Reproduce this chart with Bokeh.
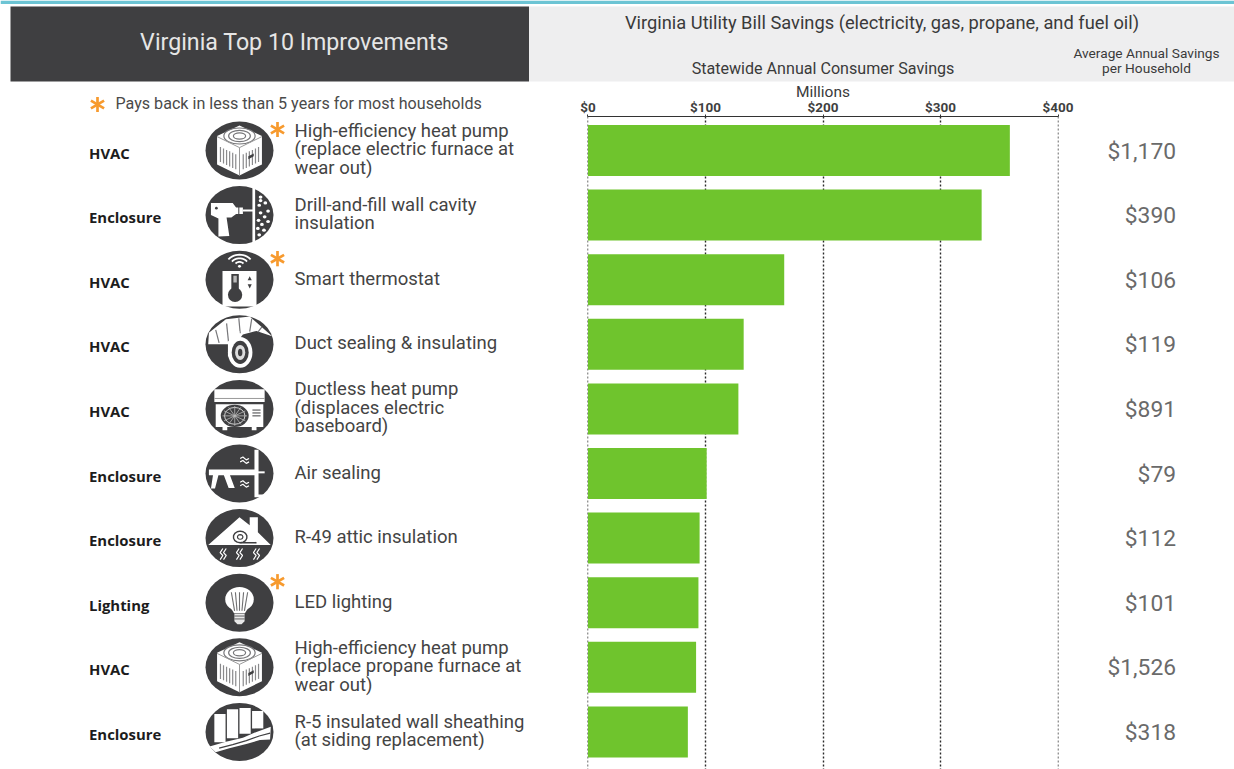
import math
from bokeh.plotting import figure
from bokeh.layouts import column, row
from bokeh.models import Range1d, LinearAxis, FixedTicker, NumeralTickFormatter, Grid
from bokeh.core.properties import value
from bokeh.embed import file_html
from bokeh.resources import INLINE

# ---- data
categories = ["HVAC", "Enclosure", "HVAC", "HVAC", "HVAC", "Enclosure", "Enclosure", "Lighting", "HVAC", "Enclosure"]
improvements = [
    "High-efficiency heat pump\n(replace electric furnace at\nwear out)",
    "Drill-and-fill wall cavity\ninsulation",
    "Smart thermostat",
    "Duct sealing & insulating",
    "Ductless heat pump\n(displaces electric\nbaseboard)",
    "Air sealing",
    "R-49 attic insulation",
    "LED lighting",
    "High-efficiency heat pump\n(replace propane furnace at\nwear out)",
    "R-5 insulated wall sheathing\n(at siding replacement)",
]
statewide_savings = [359, 335, 167, 132.5, 128, 101, 95, 94, 92, 85]
household_savings = ["$1,170", "$390", "$106", "$119", "$891", "$79", "$112", "$101", "$1,526", "$318"]
quick_payback = [True, False, True, False, False, False, False, True, False, False]
icons = ["ac", "drill", "thermostat", "duct", "ductless", "caulk", "attic", "bulb", "ac", "wall"]
x_ticks = [0, 100, 200, 300, 400]

# ---- style
FONT = "Roboto"
DARK = "#3f3f41"
WHITE = "#ffffff"
GREEN = "#6fc42d"
ORANGE = "#f79a2e"
GREY_BAND = "#eeeeef"
TEAL = "#6cc4d4"
TEXT = "#444444"

ROW0, ROW_STEP = 150.0, 64.6
HEAD_H = 82
BODY_TOP = 116
TOTAL_H = 769
CHART_OVERLAP = 4  # the chart's axis title reaches a little into the header's height


def blank(width, height, x_range, y_range, **kw):
    f = figure(width=width, height=height, x_range=x_range, y_range=y_range,
               output_backend="svg", toolbar_location=None, x_axis_type=None, y_axis_type=None,
               min_border=0, outline_line_color=None, background_fill_color=WHITE, **kw)
    return f


def put(f, x, y, s, size, color=TEXT, style="normal", align="left", baseline="middle", font=FONT, lh=None):
    kw = {}
    if lh:
        kw["text_line_height"] = lh
    f.text([x], [y], text=[s], text_font=value(font), text_font_size=f"{size}px", text_color=color,
           text_font_style=style, text_align=align, text_baseline=baseline, **kw)


def star(f, x, y, r=7.6, w=2.7):
    x0, y0, x1, y1 = [], [], [], []
    for a in (90, 30, 150):
        dx, dy = r * math.cos(math.radians(a)), r * math.sin(math.radians(a))
        x0.append(x - dx); y0.append(y - dy); x1.append(x + dx); y1.append(y + dy)
    f.segment(x0, y0, x1, y1, line_color=ORANGE, line_width=w)


# ---- header band
head = blank(1234, HEAD_H, Range1d(0, 1234), Range1d(HEAD_H, 0))
head.quad(left=[0], right=[1234], top=[0], bottom=[3.4], fill_color=TEAL, line_color=None)
head.quad(left=[10], right=[528.5], top=[6], bottom=[81], fill_color=DARK, line_color=None)
head.quad(left=[528.5], right=[1234], top=[6], bottom=[81], fill_color=GREY_BAND, line_color=None)
put(head, 294, 41.5, "Virginia Top 10 Improvements", 23.2, "#e6e6e6", align="center")
put(head, 881.5, 22, "Virginia Utility Bill Savings (electricity, gas, propane, and fuel oil)", 18.3, "#3a3a3a", align="center")
put(head, 822.5, 67.5, "Statewide Annual Consumer Savings", 16.1, "#3a3a3a", align="center")
put(head, 1146, 52, "Average Annual Savings", 13.7, "#3a3a3a", align="center")
put(head, 1146, 67.5, "per Household", 13.7, "#3a3a3a", align="center")

# ---- left panel: category, icon, description
LEFT_W = 577
strip = blank(LEFT_W, BODY_TOP - HEAD_H, Range1d(0, LEFT_W), Range1d(BODY_TOP, HEAD_H))
star(strip, 97, 104)
put(strip, 115, 103, "Pays back in less than 5 years for most households", 16.1, "#4a4a4a")

left = blank(LEFT_W, TOTAL_H - BODY_TOP, Range1d(0, LEFT_W), Range1d(TOTAL_H, BODY_TOP))


def U(c, pts):
    return [c[0] + 34 * u for u, v in pts], [c[1] + 29 * v for u, v in pts]


def poly(c, pts, color=WHITE):
    xs, ys = U(c, pts)
    left.patch(xs, ys, fill_color=color, line_color=None)


def ln(c, pts, color=DARK, w=1.0):
    xs, ys = U(c, pts)
    left.line(xs, ys, line_color=color, line_width=w)


def oval(c, u, v, w, h, fill=WHITE, line=None, lw=1.0):
    left.ellipse([c[0] + 34 * u], [c[1] + 29 * v], width=34 * w, height=29 * h, fill_color=fill,
                 line_color=line, line_width=lw)


def arc_pts(u, v, ru, rv, a0, a1, n=14):
    return [(u + ru * math.cos(math.radians(a0 + (a1 - a0) * i / n)),
             v + rv * math.sin(math.radians(a0 + (a1 - a0) * i / n))) for i in range(n + 1)]


def icon_ac(c):
    poly(c, [(0, -0.86), (0.66, -0.5), (0.66, 0.48), (0, 0.86), (-0.66, 0.48), (-0.66, -0.5)])
    for r in (0.46, 0.32, 0.18):
        oval(c, 0, -0.5, r * 2, r * 1.2, fill=None, line="#77777a", lw=1.2)
    ln(c, [(-0.66, -0.48), (0, -0.1), (0.66, -0.48)], "#999999", 1)
    ln(c, [(0, -0.1), (0, 0.86)], "#999999", 1)
    for i in range(6):
        u = -0.56 + i * 0.09
        ln(c, [(u, -0.12 + i * 0.05), (u, 0.4 + i * 0.05)], "#8a8a8c", 1.2)
        ln(c, [(-u, -0.12 + i * 0.05), (-u, 0.4 + i * 0.05)], "#8a8a8c", 1.2)
    poly(c, [(0.26, 0.2), (0.42, 0.1), (0.42, 0.2), (0.26, 0.3)], DARK)


def icon_drill(c):
    poly(c, [(0.38, -1.0), (0.46, -1.0), (0.46, 1.0), (0.38, 1.0)])
    poly(c, [(-0.84, -0.42), (-0.2, -0.42), (-0.1, -0.26), (0.1, -0.26), (0.1, -0.04), (-0.1, -0.04),
             (-0.24, 0.08), (-0.38, 0.08), (-0.3, 0.72), (-0.62, 0.74), (-0.62, 0.12), (-0.84, 0.0)])
    ln(c, [(0.1, -0.16), (0.42, -0.16)], WHITE, 2)
    ln(c, [(-0.02, -0.28), (-0.02, -0.02)], DARK, 1)
    oval(c, -0.68, -0.24, 0.08, 0.1, DARK)
    dots = [(0.62, -0.62), (0.76, -0.42), (0.58, -0.34), (0.84, -0.14), (0.62, -0.08), (0.74, 0.06),
            (0.56, 0.18), (0.84, 0.22), (0.66, 0.32), (0.54, 0.46), (0.72, 0.52), (0.58, 0.68), (0.62, -0.5)]
    for u, v in dots:
        oval(c, u, v, 0.11, 0.11)


def icon_thermostat(c):
    for r in (0.14, 0.27, 0.4):
        ln(c, arc_pts(0, -0.48, r, r * 0.95, 215, 325), WHITE, 1.8)
    oval(c, 0, -0.46, 0.09, 0.1)
    poly(c, [(-0.5, -0.3), (0.5, -0.3), (0.5, 0.92), (-0.5, 0.92)])
    poly(c, [(-0.24, -0.2), (-0.02, -0.2), (-0.02, 0.36), (-0.24, 0.36)], DARK)
    oval(c, -0.13, 0.52, 0.42, 0.5, DARK)
    poly(c, [(-0.18, -0.14), (-0.08, -0.14), (-0.08, 0.1), (-0.18, 0.1)], "#bbbbbb")
    poly(c, [(0.24, 0.02), (0.36, 0.02), (0.3, -0.12)], DARK)
    poly(c, [(0.24, 0.16), (0.36, 0.16), (0.3, 0.3)], DARK)


def icon_duct(c):
    poly(c, [(-0.9, -0.4), (-0.4, -0.86), (0.3, -0.96), (0.96, -0.28), (0.5, -0.46), (0.1, -0.34), (-0.12, 0.0), (-0.92, 0.0)])
    for u0, v0, u1, v1 in [(-0.7, -0.5, -0.6, -0.05), (-0.38, -0.72, -0.32, -0.05), (-0.02, -0.9, 0.02, -0.38),
                           (0.36, -0.88, 0.3, -0.44), (0.66, -0.6, 0.54, -0.42)]:
        ln(c, [(u0, v0), (u1, v1)], "#77777a", 1.2)
    poly(c, [(-0.34, -0.1), (0.0, -0.46), (-0.02, 0.32), (-0.34, 0.42)])
    oval(c, 0.02, 0.28, 0.72, 1.06)
    oval(c, 0.02, 0.28, 0.5, 0.8, DARK)
    oval(c, 0.02, 0.28, 0.3, 0.52, "#dddddd")
    oval(c, 0.02, 0.28, 0.13, 0.26, DARK)


def icon_ductless(c):
    poly(c, [(-0.74, -0.68), (0.74, -0.68), (0.74, -0.24), (-0.74, -0.24)])
    ln(c, [(-0.74, -0.36), (0.74, -0.36)], "#999999", 1)
    poly(c, [(-0.7, -0.16), (0.7, -0.16), (0.7, 0.62), (0.5, 0.62), (0.5, 0.74), (0.36, 0.74), (0.36, 0.62),
             (-0.36, 0.62), (-0.36, 0.74), (-0.5, 0.74), (-0.5, 0.62), (-0.7, 0.62)])
    oval(c, -0.14, 0.24, 0.82, 0.76, DARK)
    oval(c, -0.14, 0.24, 0.6, 0.58, fill=None, line="#cfcfcf", lw=1)
    for a in range(0, 180, 30):
        ca, sa = math.cos(math.radians(a)), math.sin(math.radians(a))
        ln(c, [(-0.14 - 0.36 * ca, 0.24 - 0.34 * sa), (-0.14 + 0.36 * ca, 0.24 + 0.34 * sa)], "#bbbbbb", 0.8)
    for v in (0.04, 0.14, 0.24):
        ln(c, [(0.38, v), (0.62, v)], DARK, 1)


def icon_caulk(c):
    poly(c, [(-0.9, -0.14), (0.52, -0.14), (0.52, 0.06), (-0.28, 0.06), (-0.14, 0.5), (-0.32, 0.5), (-0.46, 0.06),
             (-0.62, 0.06), (-0.72, 0.52), (-0.84, 0.52), (-0.78, 0.06), (-0.9, 0.06)])
    ln(c, [(0.52, -0.04), (0.74, -0.04)], WHITE, 2)
    poly(c, [(0.44, -0.82), (0.56, -0.82), (0.56, 0.72), (0.98, 0.72), (0.98, 0.82), (0.44, 0.82)])
    for v0 in (-0.52, 0.3):
        for dv in (0.0, 0.12):
            ln(c, [(0.02, v0 + dv), (0.1, v0 - 0.05 + dv), (0.2, v0 + 0.05 + dv), (0.28, v0 + dv)], WHITE, 1.2)


def icon_attic(c):
    poly(c, [(-0.92, 0.24), (0.0, -0.72), (0.3, -0.44), (0.3, -0.72), (0.54, -0.72), (0.54, -0.2), (0.92, 0.24)])
    ln(c, arc_pts(0.02, -0.04, 0.2, 0.2, 90, 450), DARK, 1.4)
    ln(c, arc_pts(0.02, -0.04, 0.08, 0.08, 90, 450), DARK, 1.2)
    ln(c, [(0.02, 0.16), (0.5, 0.16)], DARK, 1.6)
    for u in (-0.48, 0.0, 0.5):
        for du in (-0.05, 0.05):
            ln(c, [(u + du + 0.04, 0.36), (u + du - 0.04, 0.5), (u + du + 0.04, 0.6), (u + du - 0.04, 0.74)], WHITE, 1.2)


def icon_bulb(c):
    oval(c, 0, -0.12, 0.84, 0.84)
    poly(c, [(-0.38, -0.06), (0.38, -0.06), (0.16, 0.36), (-0.16, 0.36)])
    for u in (-0.24, -0.12, 0.0, 0.12, 0.24):
        ln(c, [(u, -0.36), (u * 0.6, 0.28)], "#6e6e70", 1.1)
    poly(c, [(-0.15, 0.38), (0.15, 0.38), (0.15, 0.64), (0.06, 0.74), (-0.06, 0.74), (-0.15, 0.64)], "#e8e8e8")
    for v in (0.46, 0.56):
        ln(c, [(-0.15, v), (0.15, v)], DARK, 0.8)


def icon_wall(c):
    tops = [-0.62, -0.78, -0.82, -0.72]
    bots = [0.36, 0.22, 0.06, -0.12]
    for u, t, b in zip((-0.74, -0.37, 0.0, 0.37), tops, bots):
        poly(c, [(u, t), (u + 0.33, t), (u + 0.33, b), (u, b)])
    poly(c, [(-0.88, 0.5), (-0.4, 0.34), (0.1, 0.2), (0.5, 0.0), (0.92, -0.18), (0.9, 0.26), (0.6, 0.28), (0.2, 0.42), (-0.3, 0.56), (-0.7, 0.7)])
    ln(c, [(-0.6, 0.56), (-0.2, 0.44), (0.2, 0.3), (0.58, 0.14), (0.9, 0.04)], DARK, 1.2)


draw_icon = dict(ac=icon_ac, drill=icon_drill, thermostat=icon_thermostat, duct=icon_duct,
                 ductless=icon_ductless, caulk=icon_caulk, attic=icon_attic, bulb=icon_bulb, wall=icon_wall)

for i, (cat, label, ic, quick) in enumerate(zip(categories, improvements, icons, quick_payback)):
    yc = ROW0 + ROW_STEP * i
    put(left, 88.5, yc + 2, cat, 14.9, "#1c1c1c", style="bold", font="Open Sans")
    c = (239, yc)
    oval(c, 0, 0, 2, 2, DARK)
    draw_icon[ic](c)
    put(left, 294, yc - 1, label, 18.5, "#444444", lh=0.84)
    if quick:
        star(left, 277, yc - 21)

# ---- bar chart with its own axis
CHART_L, CHART_R = 10, 19
chart = figure(width=CHART_L + 471 + CHART_R, height=TOTAL_H - HEAD_H + CHART_OVERLAP,
               x_range=Range1d(-0.4, 400.4),
               y_range=Range1d((769 - ROW0) / ROW_STEP, (BODY_TOP - ROW0) / ROW_STEP),
               output_backend="svg", toolbar_location=None, x_axis_type=None, y_axis_type=None,
               min_border_left=CHART_L, min_border_right=CHART_R, min_border_top=BODY_TOP - HEAD_H + CHART_OVERLAP,
               min_border_bottom=0, outline_line_color=None, border_fill_color=None,
               margin=(-CHART_OVERLAP, 0, 0, 0))
ticker = FixedTicker(ticks=x_ticks)
axis = LinearAxis(ticker=ticker, formatter=NumeralTickFormatter(format="$0"),
                  axis_label="Millions", axis_label_text_font=FONT, axis_label_text_font_size="15.5px",
                  axis_label_text_font_style="normal", axis_label_text_color="#3a3a3a", axis_label_standoff=-5,
                  major_label_text_font=FONT, major_label_text_font_size="13.5px", major_label_text_font_style="bold",
                  major_label_text_color="#3f3f3f", major_label_standoff=0,
                  major_tick_in=0, major_tick_out=2, minor_tick_in=0, minor_tick_out=0,
                  axis_line_color="#333333", axis_line_width=1.2, major_tick_line_color="#333333")
chart.add_layout(axis, "above")
chart.add_layout(Grid(dimension=0, ticker=ticker, grid_line_color="#2b2b2b", grid_line_dash="2 2", grid_line_width=1.4))
rows = list(range(len(statewide_savings)))
chart.hbar(y=rows, left=0, right=statewide_savings, height=51 / ROW_STEP, fill_color=GREEN, line_color=None)

# ---- per-household column
RIGHT_X = LEFT_W + chart.width
right = blank(1234 - RIGHT_X, TOTAL_H - BODY_TOP, Range1d(RIGHT_X, 1234), Range1d(TOTAL_H, BODY_TOP))
right.text([1175.5] * len(rows), [ROW0 + ROW_STEP * i + 0.5 for i in rows], text=household_savings,
           text_font=value(FONT), text_font_size="22.8px", text_color="#6a6a6a", text_align="right", text_baseline="middle")
right_strip = blank(1234 - RIGHT_X, BODY_TOP - HEAD_H, Range1d(0, 1), Range1d(0, 1))

page = column(head,
              row(column(strip, left, spacing=0), chart, column(right_strip, right, spacing=0), spacing=0),
              spacing=0, styles={"position": "absolute", "left": "0px", "top": "0px"})
open("out.html", "w").write(file_html(page, INLINE))
